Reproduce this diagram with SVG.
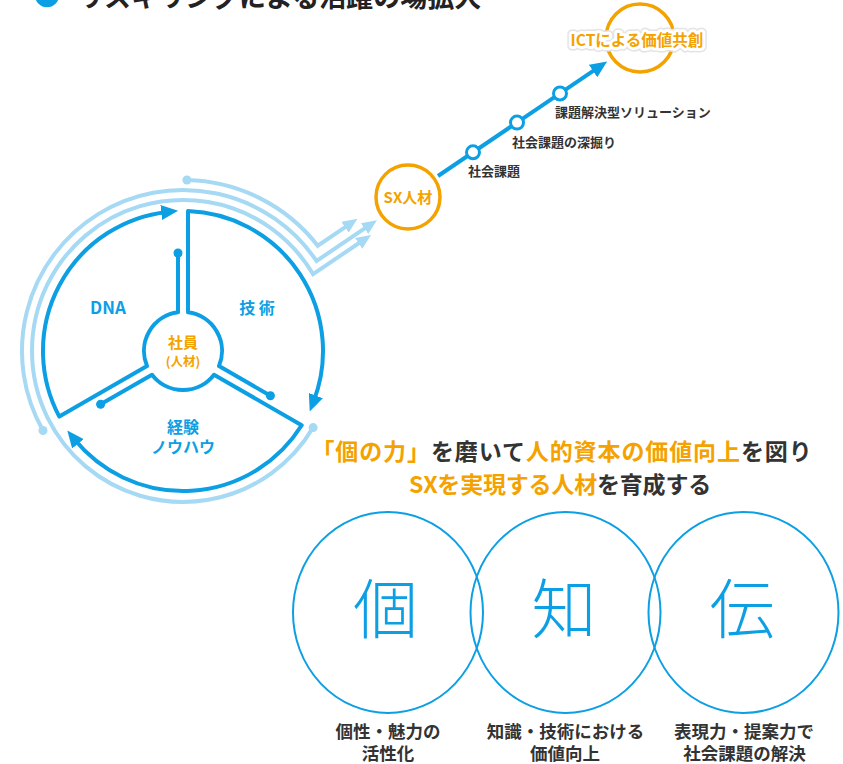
<svg xmlns="http://www.w3.org/2000/svg" width="843" height="764" viewBox="0 0 843 764">
<defs>
<style>
.main{fill:none;stroke:#0d9fe3;stroke-width:4;stroke-linejoin:round}
.light{fill:none;stroke:#a6d9f4;stroke-width:4;stroke-linejoin:miter}
.jp{font-family:"Noto Sans CJK JP","Noto Sans",sans-serif;font-weight:700}
.blue{fill:#0d9fe3}
.org{fill:#f4a200}
.dark{fill:#333333}
.ring{fill:none;stroke:#f4a200;stroke-width:3.5}
.big{fill:none;stroke:#0d9fe3;stroke-width:2}
.kanji{font-family:"Noto Sans CJK JP",sans-serif;font-weight:300;font-size:65px;fill:#0d9fe3;text-anchor:middle}
.lab{font-size:17.5px;text-anchor:middle}
</style>
<marker id="ab" markerUnits="userSpaceOnUse" markerWidth="17" markerHeight="15" refX="6" refY="7.5" orient="auto"><path d="M0,0 L17,7.5 L0,15 z" fill="#0d9fe3"/></marker>
<marker id="al" markerUnits="userSpaceOnUse" markerWidth="15" markerHeight="13" refX="6" refY="6.5" orient="auto"><path d="M0,0 L15,6.5 L0,13 z" fill="#a6d9f4"/></marker>
</defs>
<rect width="843" height="764" fill="#ffffff"/>

<g id="title">
<circle cx="47" cy="-4.7" r="12" fill="#0d9fe3"/>
<text x="77" y="7" class="jp" font-size="27" fill="#222">リスキリングによる活躍の場拡大</text>
</g>

<g id="connectors">
<path class="light" d="M313.1,427.6 A151,151 0 1 1 313,274.1 L363.6,240" marker-end="url(#al)"/>
<path class="light" d="M43,430.5 A161,161 0 0 1 316.5,261 L369.5,225.2" marker-end="url(#al)"/>
<path class="light" d="M186.9,180 A171,171 0 0 1 317.75,245.7 L350,223.9" marker-end="url(#al)"/>
<circle cx="313.1" cy="427.6" r="4.5" fill="#a6d9f4"/>
<circle cx="43" cy="430.5" r="4.5" fill="#a6d9f4"/>
<circle cx="186.9" cy="180" r="4.5" fill="#a6d9f4"/>
<line x1="438" y1="176" x2="598" y2="67.7" stroke="#0d9fe3" stroke-width="4" marker-end="url(#ab)"/>
<circle cx="473" cy="152.3" r="6.5" fill="#fff" stroke="#0d9fe3" stroke-width="3"/>
<circle cx="517" cy="122.6" r="6.5" fill="#fff" stroke="#0d9fe3" stroke-width="3"/>
<circle cx="560" cy="93.5" r="6.5" fill="#fff" stroke="#0d9fe3" stroke-width="3"/>
<text x="468" y="176" class="jp dark" font-size="13">社会課題</text>
<text x="512" y="146.5" class="jp dark" font-size="13">社会課題の深掘り</text>
<text x="555" y="117" class="jp dark" font-size="13">課題解決型ソリューション</text>
</g>

<g id="cycle">
<path class="main" d="M270.4,395.7 L219,366 A39,39 0 0 0 188,312.3 L188,211.1 A140,140 0 0 1 313.7,401.2" marker-end="url(#ab)"/>
<path class="main" d="M100.6,404.3 L152,374.7 A39,39 0 0 0 214,374.7 L301.7,425.3 A140,140 0 0 1 74.2,439.1" marker-end="url(#ab)"/>
<path class="main" d="M178,253 L178,312.3 A39,39 0 0 0 147,366 L59.3,416.6 A140,140 0 0 1 167.2,211.9" marker-end="url(#ab)"/>
<circle cx="270.4" cy="395.7" r="4.5" fill="#0d9fe3"/>
<circle cx="100.6" cy="404.3" r="4.5" fill="#0d9fe3"/>
<circle cx="178" cy="253" r="4.5" fill="#0d9fe3"/>
</g>

<g id="dna"><text x="108" y="314" class="jp blue" font-size="17" text-anchor="middle">DNA</text></g>
<g id="gijutsu"><text x="257" y="314" class="jp blue" font-size="16" text-anchor="middle">技 術</text></g>
<g id="keiken"><text x="183" y="433" class="jp blue" font-size="16" text-anchor="middle">経験</text>
<text x="183" y="453" class="jp blue" font-size="16" text-anchor="middle">ノウハウ</text></g>
<g id="shain"><text x="183" y="348" class="jp org" font-size="15" text-anchor="middle">社員</text>
<text x="183" y="366" class="jp org" font-size="12.5" text-anchor="middle">(人材)</text></g>

<g id="sx">
<circle cx="408" cy="197" r="32" class="ring"/>
<text x="408" y="202.5" class="jp org" font-size="15" text-anchor="middle">SX人材</text>
</g>

<g id="ict">
<circle cx="640" cy="38" r="34" class="ring"/>
<text x="637" y="46" class="jp" font-size="15.5" text-anchor="middle" fill="none" stroke="#e4e4e4" stroke-width="9" stroke-linejoin="round">ICTによる価値共創</text>
<text x="637" y="46" class="jp" font-size="15.5" text-anchor="middle" fill="none" stroke="#ffffff" stroke-width="6" stroke-linejoin="round">ICTによる価値共創</text>
<text x="637" y="46" class="jp org" font-size="15.5" text-anchor="middle">ICTによる価値共創</text>
</g>

<g id="slogan" class="jp" font-size="23">
<text x="562" y="459.5" text-anchor="middle" letter-spacing="0.9"><tspan class="org">「個の力」</tspan><tspan class="dark">を磨いて</tspan><tspan class="org">人的資本の価値向上</tspan><tspan class="dark">を図り</tspan></text>
<text x="560" y="492.5" text-anchor="middle" letter-spacing="-0.2"><tspan class="org">SXを実現する人材</tspan><tspan class="dark">を育成する</tspan></text>
</g>

<g id="ko">
<ellipse cx="388" cy="612.5" rx="95" ry="100.5" class="big"/>
<text x="385.5" y="633" class="kanji">個</text>
<text x="388" y="738" class="jp dark lab">個性・魅力の</text>
<text x="388" y="759.5" class="jp dark lab">活性化</text>
</g>
<g id="chi">
<ellipse cx="565.5" cy="612.5" rx="95" ry="100.5" class="big"/>
<text x="564" y="633" class="kanji">知</text>
<text x="565.5" y="738" class="jp dark lab">知識・技術における</text>
<text x="565" y="759.5" class="jp dark lab">価値向上</text>
</g>
<g id="den">
<ellipse cx="743.5" cy="612.5" rx="95" ry="100.5" class="big"/>
<text x="742" y="633" class="kanji">伝</text>
<text x="744" y="738" class="jp dark lab">表現力・提案力で</text>
<text x="744.5" y="759.5" class="jp dark lab">社会課題の解決</text>
</g>
</svg>
